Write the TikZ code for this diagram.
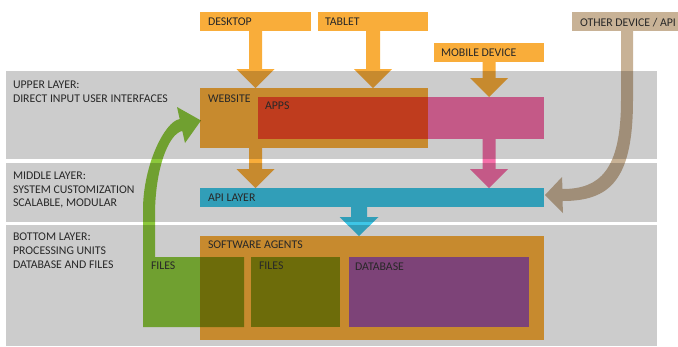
\documentclass[tikz,border=0pt]{standalone}
\usepackage{fontspec}
\setmainfont{Carlito}
\usetikzlibrary{calc}

\definecolor{bandgray}{RGB}{204,204,204}
\definecolor{devorange}{RGB}{249,173,58}
\definecolor{apppink}{RGB}{246,112,169}
\definecolor{apiteal}{RGB}{62,198,230}
\definecolor{filegreen}{RGB}{140,200,60}
\definecolor{othertan}{RGB}{200,178,150}
\definecolor{dbpurple}{RGB}{125,67,120}
\definecolor{txtgray}{RGB}{40,40,40}

% block arrow pointing down: #1 start, #2 tip, #3 shaft half width, #4 head half width
\newcommand\downblock[4]{%
  let \p1=(#1), \p2=(#2) in
  (\x1-#3,\y1) -- (\x1-#3,\y2+19pt) -- (\x1-#4,\y2+19pt) -- (\x1,\y2)
  -- (\x1+#4,\y2+19pt) -- (\x1+#3,\y2+19pt) -- (\x1+#3,\y1) -- cycle}

\begin{document}
\begin{tikzpicture}[x=1pt,y=-1pt,
  box/.style={anchor=north west, inner sep=0pt, outer sep=0pt},
  lbl/.style={anchor=base west, inner sep=0pt, outer sep=0pt, text=txtgray,
    font=\fontsize{11.8}{14}\selectfont},
]
\useasboundingbox (0,0) rectangle (678,346);

% layer bands
\node[box, fill=bandgray, minimum width=651pt, minimum height=88pt] (upper) at (6,71) {};
\node[box, fill=bandgray, minimum width=651pt, minimum height=59pt] (middle) at (6,163) {};
\node[box, fill=bandgray, minimum width=651pt, minimum height=121pt] (bottom) at (6,225) {};

\begin{scope}[blend mode=multiply]
  % devices
  \node[box, fill=devorange, minimum width=111pt, minimum height=19pt] (desktop) at (200,12) {};
  \node[box, fill=devorange, minimum width=110pt, minimum height=19pt] (tablet) at (318,12) {};
  \node[box, fill=devorange, minimum width=110pt, minimum height=19pt] (mobile) at (434,43) {};
  \node[box, fill=othertan, minimum width=106pt, minimum height=19pt] (other) at (572,12) {};
  % upper layer
  \node[box, fill=devorange, minimum width=228pt, minimum height=60pt] (website) at (200,88) {};
  \node[box, fill=apppink, minimum width=286pt, minimum height=42pt] (apps) at (258,97) {};
  % middle layer
  \node[box, fill=apiteal, minimum width=344pt, minimum height=19pt] (api) at (200,188) {};
  % bottom layer
  \node[box, fill=devorange, minimum width=344pt, minimum height=104pt] (agents) at (200,236) {};
  \node[box, fill=filegreen, minimum width=89pt, minimum height=70pt] (innerfiles) at (251,257) {};

  % device arrows
  \fill[devorange] \downblock{desktop.south}{desktop.south |- website.north}{6.5pt}{19pt};
  \fill[devorange] \downblock{tablet.south}{tablet.south |- website.north}{7pt}{19pt};
  \fill[devorange] \downblock{mobile.south}{mobile.south |- apps.north}{6.5pt}{19pt};
  % into the API layer
  \fill[devorange] \downblock{desktop.south |- website.south}{desktop.south |- api.north}{6.5pt}{19pt};
  \fill[apppink] \downblock{mobile.south |- apps.south}{mobile.south |- api.north}{6.5pt}{19pt};
  % API layer down to the agents
  \coordinate (apiout) at ([xshift=-13pt]api.south);
  \fill[apiteal] \downblock{apiout}{apiout |- agents.north}{8pt}{19.5pt};

  % files feeding back into the website
  \fill[filegreen] (143,327) -- (143,210)
    .. controls (143,165) and (165,121) .. (179.7,119.1)
    -- (177,107) -- (201,120.5) -- (185,143) -- (182.3,130.9)
    .. controls (168,134) and (155,170) .. (155,215)
    -- (155,257) -- (244,257) -- (244,327) -- cycle;

  % other device / API into the API layer
  \fill[othertan] (other.south -| 621,0) -- (621,100)
    .. controls (621,170) and (600,189) .. (562.5,189)
    -- (562,177) -- (545,195) -- (563,213) -- (562.5,201)
    .. controls (610,201) and (633,180) .. (633,100)
    -- (other.south -| 633,0) -- cycle;
\end{scope}

\node[box, fill=dbpurple, minimum width=180pt, minimum height=70pt] (database) at (349,257) {};

% layer captions
\node[lbl] (upperA) at (13,88) {UPPER LAYER:};
\node[lbl] (upperB) at (13,102) {DIRECT INPUT USER INTERFACES};
\node[lbl] (middleA) at (13,179) {MIDDLE LAYER:};
\node[lbl] (middleB) at (13,193) {SYSTEM CUSTOMIZATION};
\node[lbl] (middleC) at (13,206.5) {SCALABLE, MODULAR};
\node[lbl] (bottomA) at (13,240) {BOTTOM LAYER:};
\node[lbl] (bottomB) at (13,254) {PROCESSING UNITS};
\node[lbl] (bottomC) at (13,268) {DATABASE AND FILES};

% box labels
\node[lbl] (desktoptxt) at (208,25) {DESKTOP};
\node[lbl] (tablettxt) at (325,25) {TABLET};
\node[lbl] (mobiletxt) at (441,56) {MOBILE DEVICE};
\node[lbl] (othertxt) at (580,26) {OTHER DEVICE / API};
\node[lbl] (websitetxt) at (208,102) {WEBSITE};
\node[lbl] (appstxt) at (265,109) {APPS};
\node[lbl] (apitxt) at (208,201.5) {API LAYER};
\node[lbl] (agentstxt) at (208,248) {SOFTWARE AGENTS};
\node[lbl] (greenfilestxt) at (151,269) {FILES};
\node[lbl] (innerfilestxt) at (259,269) {FILES};
\node[lbl] (databasetxt) at (355,270) {DATABASE};
\end{tikzpicture}
\end{document}
